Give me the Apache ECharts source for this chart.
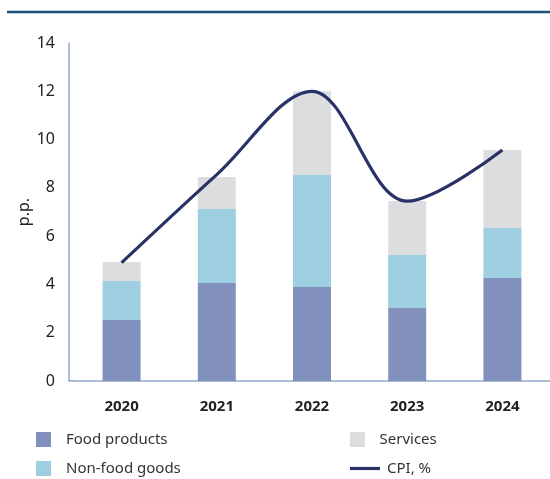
<!DOCTYPE html>
<html>
<head>
<meta charset="utf-8">
<script src="https://cdn.jsdelivr.net/npm/echarts@6/dist/echarts.min.js"></script>
<style>
  html, body { margin: 0; padding: 0; background: #fff; }
  #chart { width: 550px; height: 479px; }
</style>
</head>
<body>
<div id="chart"></div>
<script>
// Contributions to consumer price inflation, percentage points
const years = ['2020', '2021', '2022', '2023', '2024'];
const foodProducts = [2.53, 4.06, 3.89, 3.02, 4.27];
const nonFoodGoods = [1.61, 3.06, 4.64, 2.20, 2.07];
const services = [0.79, 1.33, 3.47, 2.24, 3.23];
const cpi = [4.9, 8.55, 12.0, 7.45, 9.57];

const FONT = '"Noto Sans", "Open Sans", sans-serif';
const squareIcon = 'path://M0,0H10V10H0Z';
const lineIcon = 'path://M0,0H30V3.2H0Z';
const legendText = { fontFamily: FONT, fontSize: 15, color: '#333' };

// one legend entry per block so each can sit in its own slot
function legendEntry(name, icon, left, top, itemWidth, textPad) {
  return {
    show: true,
    orient: 'horizontal',
    left: left,
    top: top,
    padding: 0,
    itemWidth: itemWidth,
    itemHeight: 15,
    symbolKeepAspect: true,
    icon: icon,
    textStyle: Object.assign({ padding: [0, 0, 0, textPad] }, legendText),
    data: [name]
  };
}

const chart = echarts.init(document.getElementById('chart'));
chart.setOption({
  animation: false,
  textStyle: { fontFamily: FONT },
  graphic: [{
    type: 'line',
    shape: { x1: 7, y1: 12, x2: 550, y2: 12 },
    style: { stroke: '#1d4f7c', lineWidth: 2.5 }
  }, {
    type: 'line',
    shape: { x1: 68.5, y1: 380.75, x2: 75, y2: 380.75 },
    style: { stroke: '#8fa9c9', lineWidth: 1.5 }
  }],
  grid: { left: 74, right: 0, top: 43, bottom: 98, containLabel: false },
  legend: [
    legendEntry('Food products', squareIcon, 36, 432, 15, 10),
    legendEntry('Non-food goods', squareIcon, 36, 461, 15, 10),
    legendEntry('Services', squareIcon, 350, 432, 30, 2),
    legendEntry('CPI, %', lineIcon, 350, 461, 30, 2)
  ],
  xAxis: {
    type: 'category',
    data: years,
    axisLine: { lineStyle: { color: '#8fa9c9', width: 1.5 } },
    axisTick: { show: false },
    axisLabel: { fontFamily: FONT, fontSize: 15, fontWeight: 'bold', color: '#222', margin: 18 }
  },
  yAxis: {
    type: 'value',
    min: 0,
    max: 14,
    interval: 2,
    offset: 5,
    name: 'p.p.',
    nameLocation: 'middle',
    nameGap: 37,
    nameMoveOverlap: false,
    nameTextStyle: { fontFamily: FONT, fontSize: 16, color: '#222' },
    axisLine: { show: true, lineStyle: { color: '#8fa9c9', width: 1.5 } },
    axisTick: { show: false },
    splitLine: { show: false },
    axisLabel: { fontFamily: FONT, fontSize: 16, color: '#222', margin: 14 }
  },
  series: [{
    name: 'Food products',
    type: 'bar',
    stack: 'total',
    barWidth: 38,
    itemStyle: { color: '#8190bd' },
    data: foodProducts
  }, {
    name: 'Non-food goods',
    type: 'bar',
    stack: 'total',
    barWidth: 38,
    itemStyle: { color: '#9ecfe0' },
    data: nonFoodGoods
  }, {
    name: 'Services',
    type: 'bar',
    stack: 'total',
    barWidth: 38,
    itemStyle: { color: '#dcdddf' },
    data: services
  }, {
    name: 'CPI, %',
    type: 'line',
    smooth: 0.35,
    symbol: 'none',
    lineStyle: { color: '#283266', width: 3.2 },
    itemStyle: { color: '#283266' },
    data: cpi,
    z: 5
  }]
});
</script>
</body>
</html>
